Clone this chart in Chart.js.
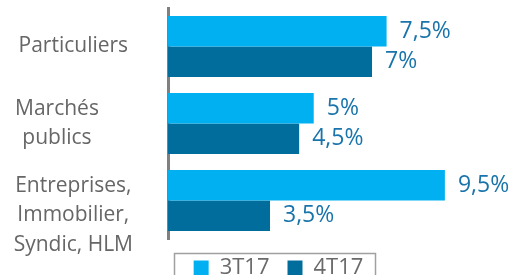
<!DOCTYPE html>
<html lang="fr">
<head>
    <meta charset="utf-8" />
    <meta name="viewport" content="width=device-width" />
    <script src="https://cdn.jsdelivr.net/npm/chart.js@4/dist/chart.umd.min.js"></script>
    <style>
        html, body { margin: 0; padding: 0; background: #fff; overflow: hidden; }
        #wrap { position: relative; width: 509px; height: 289px; }
    </style>
    <script>
        // catégories (une ligne de libellé par élément)
        var categories = [['Particuliers'], ['Marchés', 'publics'], ['Entreprises,', 'Immobilier,', 'Syndic, HLM']];
        var seriesNames = ['3T17', '4T17'];
        var values3T17 = [7.5, 5, 9.5];
        var values4T17 = [7, 4.5, 3.5];
    </script>
</head>
<body>
    <div id="wrap"><canvas id="myChart"></canvas></div>

    <script>
        const ctx = document.getElementById('myChart');

        // étiquettes de valeur au bout des barres
        const valueLabels = {
            id: 'valueLabels',
            afterDatasetsDraw(chart) {
                const c = chart.ctx;
                c.save();
                c.font = '23px "Open Sans"';
                c.fillStyle = '#1874AB';
                c.textAlign = 'left';
                c.textBaseline = 'middle';
                chart.data.datasets.forEach((ds, d) => {
                    chart.getDatasetMeta(d).data.forEach((bar, i) => {
                        const txt = String(ds.data[i]).replace('.', ',') + '%';
                        c.fillText(txt, bar.x + 13, bar.y);
                    });
                });
                c.restore();
            }
        };

        // légende décalée vers la droite + cadre autour
        const legendFrame = {
            id: 'legendFrame',
            afterLayout(chart) {
                chart.legend.left += 24;
                chart.legend.right += 24;
            },
            afterDraw(chart) {
                const lg = chart.legend;
                const hb = lg.legendHitBoxes;
                if (!hb || !hb.length) return;
                const last = hb[hb.length - 1];
                const l = Math.round(hb[0].left - 20), r = Math.round(last.left + last.width + 12);
                const c = chart.ctx;
                c.save();
                c.strokeStyle = '#A0A0A0';
                c.lineWidth = 1.5;
                c.strokeRect(l + 0.5, lg.top + 14.5, r - l, 80);
                c.restore();
            }
        };

        const myChart = new Chart(ctx, {
            type: 'bar',
            data: {
                labels: categories,
                datasets: [{
                    label: seriesNames[0],
                    data: values3T17,
                    backgroundColor: '#00B0F0',
                    borderWidth: 0
                }, {
                    label: seriesNames[1],
                    data: values4T17,
                    backgroundColor: '#006D9C',
                    borderWidth: 0
                }]
            },
            options: {
                indexAxis: 'y',
                responsive: true,
                maintainAspectRatio: false,
                animation: false,
                categoryPercentage: 0.79,
                barPercentage: 1.0,
                layout: { padding: { left: 0, top: 8, right: 0, bottom: 0 } },
                scales: {
                    x: { display: false, min: 0, max: 11.7 },
                    y: {
                        grid: { display: false, drawTicks: false },
                        border: { display: true, color: '#808080', width: 3 },
                        ticks: {
                            autoSkip: false,
                            crossAlign: 'center',
                            padding: 35,
                            color: '#666666',
                            font: { family: '"Open Sans"', size: 21, lineHeight: 1.4 },
                            callback: function (v, i) {
                                let lines = categories[i].slice();
                                // décalages visibles sur l'original
                                if (i === 1) lines = lines.map(s => s + '\u00a0'.repeat(6));
                                if (i === 2) lines.unshift('');
                                return lines;
                            }
                        },
                        afterFit: function (scale) {
                            scale.width = 168;
                            scale.paddingTop = 0;
                            scale.paddingBottom = 0;
                        }
                    }
                },
                plugins: {
                    tooltip: { enabled: false },
                    legend: {
                        position: 'bottom',
                        labels: {
                            color: '#6A6A6A',
                            font: { family: '"Open Sans"', size: 22 },
                            boxWidth: 15,
                            boxHeight: 15,
                            padding: 18
                        }
                    }
                }
            },
            plugins: [valueLabels, legendFrame]
        });
    </script>
</body>
</html>
